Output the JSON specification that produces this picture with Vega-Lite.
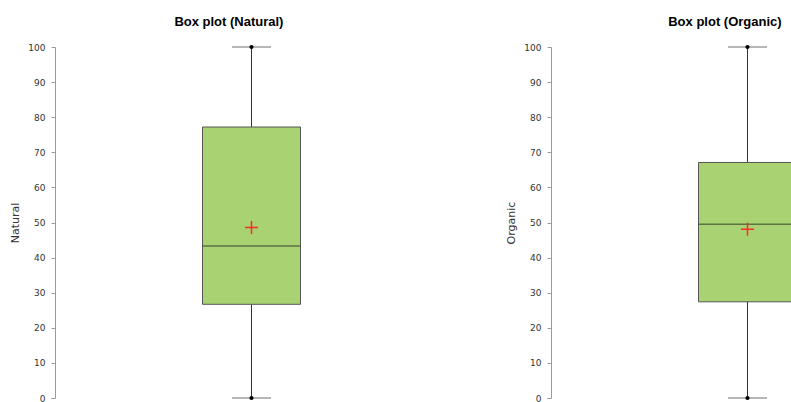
{
  "$schema": "https://vega.github.io/schema/vega-lite/v6.json",
  "padding": {"left": 9, "top": 16, "right": 5, "bottom": 5},
  "spacing": 57,
  "datasets": {
    "stats": [
      {"var": "Natural", "min": 0, "q1": 26.7, "median": 43.3, "q3": 77.2, "max": 100, "mean": 48.6},
      {"var": "Organic", "min": 0, "q1": 27.4, "median": 49.5, "q3": 67.1, "max": 100, "mean": 48.1}
    ]
  },
  "config": {
    "view": {"stroke": null},
    "axis": {
      "grid": false,
      "domainColor": "#9a9a9a",
      "tickColor": "#9a9a9a",
      "tickSize": 4,
      "labelFont": "DejaVu Sans",
      "labelFontSize": 9,
      "labelColor": "#333333",
      "labelPadding": 6,
      "labelOverlap": false,
      "titleFont": "DejaVu Sans",
      "titleFontSize": 11,
      "titleFontWeight": "normal",
      "titleColor": "#333333",
      "titlePadding": 7
    },
    "title": {
      "font": "Liberation Sans",
      "fontSize": 13,
      "fontWeight": "bold",
      "color": "#000000",
      "frame": "bounds",
      "anchor": "middle",
      "offset": 14
    }
  },
  "hconcat": [
    {
      "title": "Box plot (Natural)",
      "width": 393,
      "height": 351,
      "data": {"name": "stats"},
      "transform": [{"filter": "datum.var === 'Natural'"}],
      "encoding": {"x": {"field": "var", "type": "nominal", "axis": null}},
      "layer": [
        {"mark": {"type": "rule", "color": "#333333", "strokeWidth": 1},
         "encoding": {"y": {"field": "min", "type": "quantitative", "scale": {"domain": [0, 100], "nice": false}, "axis": {"values": [0,10,20,30,40,50,60,70,80,90,100], "labelOverlap": false}, "title": "Natural"}, "y2": {"field": "max"}}},
        {"mark": {"type": "bar", "width": 98, "fill": "#A9D373", "stroke": "#555555", "strokeWidth": 1},
         "encoding": {"y": {"field": "q1", "type": "quantitative", "axis": {"values": [0,10,20,30,40,50,60,70,80,90,100], "labelOverlap": false}, "title": "Natural"}, "y2": {"field": "q3"}}},
        {"mark": {"type": "tick", "color": "#3d4a33", "size": 98, "thickness": 1.5},
         "encoding": {"y": {"field": "median", "type": "quantitative", "axis": {"values": [0,10,20,30,40,50,60,70,80,90,100], "labelOverlap": false}, "title": "Natural"}}},
        {"mark": {"type": "tick", "color": "#333333", "size": 39, "thickness": 1},
         "encoding": {"y": {"field": "min", "type": "quantitative", "axis": {"values": [0,10,20,30,40,50,60,70,80,90,100], "labelOverlap": false}, "title": "Natural"}}},
        {"mark": {"type": "tick", "color": "#333333", "size": 39, "thickness": 1},
         "encoding": {"y": {"field": "max", "type": "quantitative", "axis": {"values": [0,10,20,30,40,50,60,70,80,90,100], "labelOverlap": false}, "title": "Natural"}}},
        {"mark": {"type": "point", "filled": true, "color": "#000000", "size": 18, "opacity": 1},
         "encoding": {"y": {"field": "min", "type": "quantitative", "axis": {"values": [0,10,20,30,40,50,60,70,80,90,100], "labelOverlap": false}, "title": "Natural"}}},
        {"mark": {"type": "point", "filled": true, "color": "#000000", "size": 18, "opacity": 1},
         "encoding": {"y": {"field": "max", "type": "quantitative", "axis": {"values": [0,10,20,30,40,50,60,70,80,90,100], "labelOverlap": false}, "title": "Natural"}}},
        {"mark": {"type": "point", "shape": "M-1,0L1,0M0,-1L0,1", "filled": false, "color": "#FF2A2A", "stroke": "#FF2A2A", "strokeWidth": 1.5, "size": 169, "opacity": 1, "strokeOpacity": 1},
         "encoding": {"y": {"field": "mean", "type": "quantitative", "axis": {"values": [0,10,20,30,40,50,60,70,80,90,100], "labelOverlap": false}, "title": "Natural"}}}
      ]
    },
    {
      "title": "Box plot (Organic)",
      "width": 393,
      "height": 351,
      "data": {"name": "stats"},
      "transform": [{"filter": "datum.var === 'Organic'"}],
      "encoding": {"x": {"field": "var", "type": "nominal", "axis": null}},
      "layer": [
        {"mark": {"type": "rule", "color": "#333333", "strokeWidth": 1},
         "encoding": {"y": {"field": "min", "type": "quantitative", "scale": {"domain": [0, 100], "nice": false}, "axis": {"values": [0,10,20,30,40,50,60,70,80,90,100], "labelOverlap": false}, "title": "Organic"}, "y2": {"field": "max"}}},
        {"mark": {"type": "bar", "width": 98, "fill": "#A9D373", "stroke": "#555555", "strokeWidth": 1},
         "encoding": {"y": {"field": "q1", "type": "quantitative", "axis": {"values": [0,10,20,30,40,50,60,70,80,90,100], "labelOverlap": false}, "title": "Organic"}, "y2": {"field": "q3"}}},
        {"mark": {"type": "tick", "color": "#3d4a33", "size": 98, "thickness": 1.5},
         "encoding": {"y": {"field": "median", "type": "quantitative", "axis": {"values": [0,10,20,30,40,50,60,70,80,90,100], "labelOverlap": false}, "title": "Organic"}}},
        {"mark": {"type": "tick", "color": "#333333", "size": 39, "thickness": 1},
         "encoding": {"y": {"field": "min", "type": "quantitative", "axis": {"values": [0,10,20,30,40,50,60,70,80,90,100], "labelOverlap": false}, "title": "Organic"}}},
        {"mark": {"type": "tick", "color": "#333333", "size": 39, "thickness": 1},
         "encoding": {"y": {"field": "max", "type": "quantitative", "axis": {"values": [0,10,20,30,40,50,60,70,80,90,100], "labelOverlap": false}, "title": "Organic"}}},
        {"mark": {"type": "point", "filled": true, "color": "#000000", "size": 18, "opacity": 1},
         "encoding": {"y": {"field": "min", "type": "quantitative", "axis": {"values": [0,10,20,30,40,50,60,70,80,90,100], "labelOverlap": false}, "title": "Organic"}}},
        {"mark": {"type": "point", "filled": true, "color": "#000000", "size": 18, "opacity": 1},
         "encoding": {"y": {"field": "max", "type": "quantitative", "axis": {"values": [0,10,20,30,40,50,60,70,80,90,100], "labelOverlap": false}, "title": "Organic"}}},
        {"mark": {"type": "point", "shape": "M-1,0L1,0M0,-1L0,1", "filled": false, "color": "#FF2A2A", "stroke": "#FF2A2A", "strokeWidth": 1.5, "size": 169, "opacity": 1, "strokeOpacity": 1},
         "encoding": {"y": {"field": "mean", "type": "quantitative", "axis": {"values": [0,10,20,30,40,50,60,70,80,90,100], "labelOverlap": false}, "title": "Organic"}}}
      ]
    }
  ]
}
